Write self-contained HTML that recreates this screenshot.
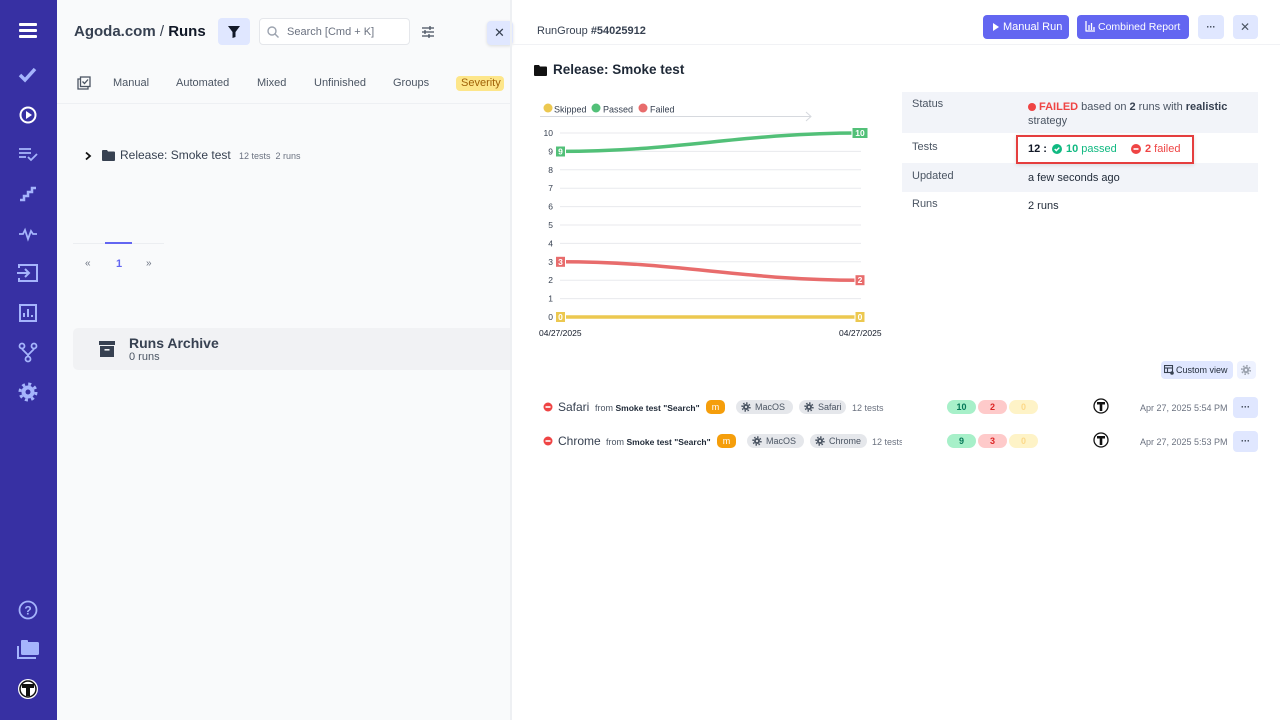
<!DOCTYPE html>
<html><head><meta charset="utf-8">
<style>
*{margin:0;padding:0;box-sizing:border-box}
body{width:1280px;height:720px;overflow:hidden;position:relative;font-family:"Liberation Sans",sans-serif;background:#fff;color:#1f2937}
.a{position:absolute;white-space:nowrap;line-height:14px}
.tab{font-size:11px;color:#4b5563;top:76px}
.lbl{font-size:11px;color:#4b5563}
.val{font-size:11px;color:#1f2937}
.chip{position:absolute;height:14px;border-radius:7px;background:#e5e7eb;font-size:9px;color:#4b5563;line-height:14px;padding-left:19px}
.pill{position:absolute;width:29px;height:14px;border-radius:7px;font-size:9px;font-weight:bold;text-align:center;line-height:14px}
.btn{position:absolute;border-radius:4px}
.dots{position:absolute;font-size:9px;font-weight:bold;color:#1f2937;text-align:center}
</style></head><body>

<!-- sidebar -->
<div class="a" style="left:0;top:0;width:57px;height:720px;background:#3730a3"></div>
<svg class="a" style="left:0;top:0" width="57" height="720" viewBox="0 0 57 720">
  <g fill="#fff"><rect x="19" y="23" width="18" height="3" rx="1"/><rect x="19" y="29" width="18" height="3" rx="1"/><rect x="19" y="35" width="18" height="3" rx="1"/></g>
  <polyline points="20,75 25,80 35,69" fill="none" stroke="#a5b4fc" stroke-width="3.5"/>
  <circle cx="28" cy="115" r="7.5" fill="none" stroke="#fff" stroke-width="2"/><polygon points="26,111 26,119 32,115" fill="#fff"/>
  <g stroke="#a5b4fc" stroke-width="1.8" fill="none"><line x1="19" y1="149" x2="31" y2="149"/><line x1="19" y1="153" x2="31" y2="153"/><line x1="19" y1="157" x2="26" y2="157"/><polyline points="28,157 31,160 37,154"/></g>
  <polyline points="20,200 24,200 24,196 28,196 28,192 32,192 32,188 36,188" fill="none" stroke="#a5b4fc" stroke-width="2.5"/>
  <polyline points="19,234 23,234 25,230 28,239 31,231 33,234 37,234" fill="none" stroke="#a5b4fc" stroke-width="1.8"/>
  <g stroke="#a5b4fc" stroke-width="2" fill="none"><path d="M19,268 V265 H37 V281 H19 V278"/><line x1="17" y1="273" x2="29" y2="273"/><polyline points="25,269 29,273 25,277"/></g>
  <g stroke="#a5b4fc" stroke-width="2" fill="none"><rect x="20" y="305" width="16" height="16"/><line x1="24" y1="317" x2="24" y2="313"/><line x1="28" y1="317" x2="28" y2="309"/><line x1="32" y1="317" x2="32" y2="315"/></g>
  <g stroke="#a5b4fc" stroke-width="1.8" fill="none"><circle cx="22" cy="346" r="2.5"/><circle cx="34" cy="346" r="2.5"/><circle cx="28" cy="359" r="2.5"/><path d="M22,349 L28,355 L34,349"/><line x1="28" y1="355" x2="28" y2="356"/></g>
  <circle cx="28" cy="392" r="6.5" fill="#a5b4fc"/><circle cx="28" cy="392" r="8" fill="none" stroke="#a5b4fc" stroke-width="3" stroke-dasharray="3 3.28"/><circle cx="28" cy="392" r="2.5" fill="#3730a3"/>
  <circle cx="28" cy="610" r="8.5" fill="none" stroke="#a5b4fc" stroke-width="1.8"/>
  <text x="28" y="614.5" font-size="12" font-family="Liberation Sans" font-weight="bold" fill="#a5b4fc" text-anchor="middle">?</text>
  <g fill="#a5b4fc"><rect x="21" y="642" width="18" height="13" rx="1.5"/><rect x="21" y="640" width="7" height="4" rx="1"/><path d="M17,646 V659 H36 V657 H19 V646 Z"/></g>
  <circle cx="28" cy="689" r="10" fill="#fff"/><circle cx="28" cy="689" r="8" fill="none" stroke="#111" stroke-width="1.5"/>
  <path d="M22,684 H34 V688 H30 V696 H26 V688 H22 Z" fill="#111"/>
</svg>

<!-- left panel -->
<div class="a" style="left:57px;top:0;width:453px;height:720px;background:#f9fafb"></div>
<div class="a" style="left:57px;top:103px;width:453px;height:1px;background:#eef0f3"></div>
<div class="a" style="left:74px;top:23px;font-size:15px;line-height:18px;font-weight:bold;color:#374151">Agoda.com <span style="font-weight:normal;color:#374151">/</span> <span style="color:#111827">Runs</span></div>
<div class="btn" style="left:218px;top:18px;width:32px;height:27px;background:#e0e7ff"></div>
<svg class="a" style="left:226px;top:25px" width="16" height="14" viewBox="0 0 16 14"><path d="M2,1 H14 L9.5,7 V12 L6.5,13 V7 Z" fill="#111827"/></svg>
<div class="btn" style="left:259px;top:18px;width:151px;height:27px;background:#fff;border:1px solid #e5e7eb"></div>
<svg class="a" style="left:266px;top:25px" width="14" height="14" viewBox="0 0 14 14"><circle cx="6" cy="6" r="4" fill="none" stroke="#9ca3af" stroke-width="1.4"/><line x1="9" y1="9" x2="12.5" y2="12.5" stroke="#9ca3af" stroke-width="1.4"/></svg>
<div class="a" style="left:287px;top:25px;font-size:11px;color:#6b7280">Search [Cmd + K]</div>
<svg class="a" style="left:421px;top:25px" width="14" height="14" viewBox="0 0 14 14"><g stroke="#4b5563" stroke-width="1.3"><line x1="1" y1="3" x2="13" y2="3"/><line x1="1" y1="7" x2="13" y2="7"/><line x1="1" y1="11" x2="13" y2="11"/><line x1="9" y1="1" x2="9" y2="5"/><line x1="4" y1="5" x2="4" y2="9"/><line x1="8" y1="9" x2="8" y2="13"/></g></svg>
<div class="btn" style="left:487px;top:21px;width:26px;height:24px;background:#e0e7ff;box-shadow:0 1px 3px rgba(0,0,0,.12)"></div>
<div class="a" style="left:494px;top:26px;font-size:13px;color:#374151">✕</div>

<svg class="a" style="left:77px;top:76px" width="14" height="14" viewBox="0 0 14 14"><g fill="none" stroke="#4b5563" stroke-width="1.3"><path d="M3,3 H1 V13 H11 V11"/><rect x="3.5" y="1" width="9.5" height="9.5"/><polyline points="5.5,5.5 7.5,7.5 11,3.5"/></g></svg>
<div class="a tab" style="left:113px">Manual</div>
<div class="a tab" style="left:176px">Automated</div>
<div class="a tab" style="left:257px">Mixed</div>
<div class="a tab" style="left:314px">Unfinished</div>
<div class="a tab" style="left:393px">Groups</div>
<div class="a" style="left:456px;top:76px;width:48px;height:15px;border-radius:4px;background:#fde68a"></div>
<div class="a tab" style="left:461px;color:#a16207">Severity</div>

<svg class="a" style="left:84px;top:151px" width="8" height="10" viewBox="0 0 8 10"><polyline points="2,1.5 6,5 2,8.5" fill="none" stroke="#111" stroke-width="1.8"/></svg>
<svg class="a" style="left:102px;top:150px" width="13" height="11" viewBox="0 0 13 11"><path d="M0,1 Q0,0 1,0 H5 L6,1.5 H12 Q13,1.5 13,2.5 V10 Q13,11 12,11 H1 Q0,11 0,10 Z" fill="#374151"/></svg>
<div class="a" style="left:120px;top:148px;font-size:12px;color:#374151">Release: Smoke test</div>
<div class="a" style="left:239px;top:149px;font-size:9px;color:#6b7280">12 tests &nbsp;2 runs</div>

<div class="a" style="left:73px;top:243px;width:91px;height:1px;background:#eceef1"></div>
<div class="a" style="left:105px;top:242px;width:27px;height:2px;background:#6366f1"></div>
<div class="a" style="left:85px;top:257px;font-size:10px;color:#6b7280">«</div>
<div class="a" style="left:116px;top:257px;font-size:11px;color:#6366f1;font-weight:bold">1</div>
<div class="a" style="left:146px;top:257px;font-size:10px;color:#6b7280">»</div>

<div class="a" style="left:73px;top:328px;width:437px;height:42px;background:#f1f2f4;border-radius:5px 0 0 5px"></div>
<svg class="a" style="left:99px;top:341px" width="16" height="16" viewBox="0 0 16 16"><rect x="0" y="0" width="16" height="4" fill="#374151"/><rect x="1" y="5" width="14" height="11" fill="#374151"/><rect x="5.5" y="8" width="5" height="1.6" fill="#f1f2f4"/></svg>
<div class="a" style="left:129px;top:335px;font-size:14px;line-height:16px;font-weight:bold;color:#374151">Runs Archive</div>
<div class="a" style="left:129px;top:350px;font-size:11px;color:#4b5563">0 runs</div>

<!-- right panel -->
<div class="a" style="left:510px;top:0;width:2px;height:720px;background:#eef0f3"></div>
<div class="a" style="left:512px;top:44px;width:768px;height:1px;background:#f1f2f5"></div>
<div class="a" style="left:537px;top:24px;font-size:11px;color:#374151">RunGroup <b>#54025912</b></div>
<div class="btn" style="left:983px;top:15px;width:86px;height:24px;background:#6366f1"></div>
<svg class="a" style="left:992px;top:23px" width="8" height="8" viewBox="0 0 8 8"><polygon points="1,0 7,4 1,8" fill="#fff"/></svg>
<div class="a" style="left:1003px;top:20px;font-size:11px;color:#fff">Manual Run</div>
<div class="btn" style="left:1077px;top:15px;width:112px;height:24px;background:#6366f1"></div>
<svg class="a" style="left:1085px;top:21px" width="10" height="11" viewBox="0 0 10 11"><g stroke="#fff" stroke-width="1.3"><line x1="1" y1="0" x2="1" y2="10"/><line x1="0.5" y1="10" x2="10" y2="10"/><line x1="4" y1="4" x2="4" y2="9"/><line x1="6.5" y1="2" x2="6.5" y2="9"/><line x1="9" y1="6" x2="9" y2="9"/></g></svg>
<div class="a" style="left:1098px;top:20px;font-size:10.5px;color:#fff">Combined Report</div>
<div class="btn" style="left:1198px;top:15px;width:26px;height:24px;background:#e0e7ff"></div>
<div class="dots" style="left:1198px;top:20px;width:26px;line-height:14px">···</div>
<div class="btn" style="left:1233px;top:15px;width:25px;height:24px;background:#e0e7ff"></div>
<div class="a" style="left:1240px;top:20px;font-size:12px;color:#4b5563">✕</div>

<svg class="a" style="left:534px;top:65px" width="13" height="11" viewBox="0 0 13 11"><path d="M0,1 Q0,0 1,0 H5 L6,1.5 H12 Q13,1.5 13,2.5 V10 Q13,11 12,11 H1 Q0,11 0,10 Z" fill="#111"/></svg>
<div class="a" style="left:553px;top:61px;font-size:13.5px;line-height:18px;font-weight:bold;color:#1f2937">Release: Smoke test</div>

<!-- chart -->
<svg class="a" style="left:530px;top:90px" width="370" height="260" viewBox="530 90 370 260" font-family="Liberation Sans">
  <circle cx="548" cy="108" r="4.5" fill="#ecc850"/><text x="554" y="112.5" font-size="9" fill="#374151">Skipped</text>
  <circle cx="596" cy="108" r="4.5" fill="#52c078"/><text x="603" y="112.5" font-size="9" fill="#374151">Passed</text>
  <circle cx="643" cy="108" r="4.5" fill="#e86c6c"/><text x="650" y="112.5" font-size="9" fill="#374151">Failed</text>
  <line x1="540" y1="116.5" x2="811" y2="116.5" stroke="#d6d9de" stroke-width="1"/>
  <polyline points="806,112 811,116.5 806,121" fill="none" stroke="#d6d9de" stroke-width="1"/>
  <g stroke="#e8eaed" stroke-width="1">
    <line x1="560" y1="133" x2="861" y2="133"/><line x1="560" y1="151.4" x2="861" y2="151.4"/><line x1="560" y1="169.8" x2="861" y2="169.8"/><line x1="560" y1="188.2" x2="861" y2="188.2"/><line x1="560" y1="206.6" x2="861" y2="206.6"/><line x1="560" y1="225" x2="861" y2="225"/><line x1="560" y1="243.4" x2="861" y2="243.4"/><line x1="560" y1="261.8" x2="861" y2="261.8"/><line x1="560" y1="280.2" x2="861" y2="280.2"/><line x1="560" y1="298.6" x2="861" y2="298.6"/><line x1="560" y1="317" x2="861" y2="317"/>
  </g>
  <g font-size="8.5" fill="#374151" text-anchor="end">
    <text x="553" y="136">10</text><text x="553" y="154.4">9</text><text x="553" y="172.8">8</text><text x="553" y="191.2">7</text><text x="553" y="209.6">6</text><text x="553" y="228">5</text><text x="553" y="246.4">4</text><text x="553" y="264.8">3</text><text x="553" y="283.2">2</text><text x="553" y="301.6">1</text><text x="553" y="320">0</text>
  </g>
  <path d="M560,317 L860,317" stroke="#ecc850" stroke-width="3.5" fill="none"/>
  <path d="M560,261.8 C680,261.8 740,280.2 860,280.2" stroke="#e86c6c" stroke-width="3.5" fill="none"/>
  <path d="M560,151.4 C680,151.4 740,133 860,133" stroke="#52c078" stroke-width="3.5" fill="none"/>
  <g stroke="#fff" stroke-width="1">
    <rect x="555.5" y="146" width="10" height="11" fill="#52c078"/>
    <rect x="852" y="127.5" width="16" height="11" fill="#52c078"/>
    <rect x="555.5" y="256.3" width="10" height="11" fill="#e86c6c"/>
    <rect x="855" y="274.7" width="10" height="11" fill="#e86c6c"/>
    <rect x="555.5" y="311.5" width="10" height="11" fill="#ecc850"/>
    <rect x="855" y="311.5" width="10" height="11" fill="#ecc850"/>
  </g>
  <g font-size="8.5" font-weight="bold" fill="#fff" text-anchor="middle">
    <text x="560.5" y="154.5">9</text><text x="860" y="136">10</text><text x="560.5" y="264.8">3</text><text x="860" y="283.2">2</text><text x="560.5" y="320">0</text><text x="860" y="320">0</text>
  </g>
  <g font-size="8.5" fill="#111827"><text x="539" y="336">04/27/2025</text><text x="839" y="336">04/27/2025</text></g>
</svg>

<!-- status table -->
<div class="a" style="left:902px;top:92px;width:356px;height:41px;background:#f2f4f9"></div>
<div class="a" style="left:902px;top:163px;width:356px;height:29px;background:#f2f4f9"></div>
<div class="a lbl" style="left:912px;top:97px">Status</div>
<div class="a" style="left:1028px;top:103px;width:8px;height:8px;border-radius:4px;background:#ef4444"></div>
<div class="a val" style="left:1039px;top:100px;color:#4b5563"><b style="color:#ef4444">FAILED</b> based on <b style="color:#374151">2</b> runs with <b style="color:#374151">realistic</b></div>
<div class="a val" style="left:1028px;top:114px;color:#4b5563">strategy</div>
<div class="a lbl" style="left:912px;top:140px">Tests</div>
<div class="a" style="left:1016px;top:135px;width:178px;height:29px;border:2px solid #e53e3e;background:#fff;box-shadow:0 1px 4px rgba(0,0,0,.12)"></div>
<div class="a val" style="left:1028px;top:142px;font-weight:bold;color:#111827">12 :</div>
<svg class="a" style="left:1052px;top:144px" width="10" height="10" viewBox="0 0 10 10"><circle cx="5" cy="5" r="5" fill="#10b981"/><polyline points="2.7,5 4.3,6.6 7.3,3.6" fill="none" stroke="#fff" stroke-width="1.4"/></svg>
<div class="a val" style="left:1066px;top:142px;color:#10b981"><b>10</b> passed</div>
<svg class="a" style="left:1131px;top:144px" width="10" height="10" viewBox="0 0 10 10"><circle cx="5" cy="5" r="5" fill="#ef4444"/><rect x="2.5" y="4.2" width="5" height="1.6" fill="#fff"/></svg>
<div class="a val" style="left:1145px;top:142px;color:#ef4444"><b>2</b> failed</div>
<div class="a lbl" style="left:912px;top:169px">Updated</div>
<div class="a val" style="left:1028px;top:171px">a few seconds ago</div>
<div class="a lbl" style="left:912px;top:197px">Runs</div>
<div class="a val" style="left:1028px;top:199px">2 runs</div>

<!-- custom view -->
<div class="btn" style="left:1161px;top:361px;width:72px;height:18px;background:#e0e7ff"></div>
<svg class="a" style="left:1164px;top:365px" width="10" height="10" viewBox="0 0 10 10"><g fill="none" stroke="#374151" stroke-width="1.1"><rect x="0.5" y="0.5" width="8" height="7"/><line x1="0.5" y1="3" x2="8.5" y2="3"/><line x1="3.5" y1="3" x2="3.5" y2="7.5"/></g><circle cx="8" cy="8" r="1.8" fill="#374151"/></svg>
<div class="a" style="left:1176px;top:363px;font-size:9px;color:#1f2937">Custom view</div>
<div class="btn" style="left:1237px;top:361px;width:19px;height:18px;background:#eef2ff"></div>
<svg class="a" style="left:1241px;top:365px" width="10" height="10" viewBox="0 0 10 10"><circle cx="5" cy="5" r="3.2" fill="#9ca3af"/><circle cx="5" cy="5" r="4.2" fill="none" stroke="#9ca3af" stroke-width="1.6" stroke-dasharray="1.6 1.7"/><circle cx="5" cy="5" r="1.2" fill="#eef2ff"/></svg>

<!-- rows -->
<svg class="a" style="left:0;top:0;pointer-events:none" width="1280" height="720" viewBox="0 0 1280 720">
  <defs><g id="gear"><circle cx="0" cy="0" r="3" fill="#4b5563"/><circle cx="0" cy="0" r="3.9" fill="none" stroke="#4b5563" stroke-width="1.6" stroke-dasharray="1.5 1.56"/><circle cx="0" cy="0" r="1.1" fill="#e5e7eb"/></g>
  <g id="min"><circle cx="0" cy="0" r="4.5" fill="#ef4444"/><rect x="-2.5" y="-0.8" width="5" height="1.6" fill="#fff"/></g>
  <g id="av"><circle cx="0" cy="0" r="7" fill="#fff" stroke="#111" stroke-width="1.3"/><path d="M-4,-4 H4 V-1.5 H1.3 V5 H-1.3 V-1.5 H-4 Z" fill="#111"/></g></defs>
  <use href="#min" x="548" y="407"/><use href="#min" x="548" y="441"/>
  <use href="#av" x="1101" y="406"/><use href="#av" x="1101" y="440"/>
</svg>

<div class="a" style="left:558px;top:400px;font-size:12px;color:#374151">Safari</div>
<div class="a" style="left:595px;top:400.5px;font-size:9px;color:#4b5563">from <b style="font-size:8.5px;color:#1f2937">Smoke test "Search"</b></div>
<div class="a" style="left:706px;top:400px;width:19px;height:14px;border-radius:5px;background:#f59e0b;color:#fff;font-size:9px;text-align:center">m</div>
<div class="chip" style="left:736px;top:400px;width:57px">MacOS</div>
<div class="chip" style="left:799px;top:400px;width:47px">Safari</div>
<div class="a" style="left:852px;top:400.5px;font-size:9px;color:#6b7280">12 tests</div>

<div class="a" style="left:558px;top:434px;font-size:12px;color:#374151">Chrome</div>
<div class="a" style="left:606px;top:434.5px;font-size:9px;color:#4b5563">from <b style="font-size:8.5px;color:#1f2937">Smoke test "Search"</b></div>
<div class="a" style="left:717px;top:434px;width:19px;height:14px;border-radius:5px;background:#f59e0b;color:#fff;font-size:9px;text-align:center">m</div>
<div class="chip" style="left:747px;top:434px;width:57px">MacOS</div>
<div class="chip" style="left:810px;top:434px;width:57px">Chrome</div>
<div class="a" style="left:872px;top:434.5px;font-size:9px;color:#6b7280;width:30px;overflow:hidden">12 tests</div>

<svg class="a" style="left:0;top:0;pointer-events:none" width="1280" height="720" viewBox="0 0 1280 720">
  <use href="#gear" x="746" y="407"/><use href="#gear" x="809" y="407"/>
  <use href="#gear" x="757" y="441"/><use href="#gear" x="820" y="441"/>
</svg>

<div class="pill" style="left:947px;top:400px;background:#a7f0c9;color:#047857">10</div>
<div class="pill" style="left:978px;top:400px;background:#fecaca;color:#dc2626">2</div>
<div class="pill" style="left:1009px;top:400px;background:#fef3c7;color:#fcd98a">0</div>
<div class="pill" style="left:947px;top:434px;background:#a7f0c9;color:#047857">9</div>
<div class="pill" style="left:978px;top:434px;background:#fecaca;color:#dc2626">3</div>
<div class="pill" style="left:1009px;top:434px;background:#fef3c7;color:#fcd98a">0</div>

<div class="a" style="left:1140px;top:400.5px;font-size:9px;color:#6b7280">Apr 27, 2025 5:54 PM</div>
<div class="a" style="left:1140px;top:434.5px;font-size:9px;color:#6b7280">Apr 27, 2025 5:53 PM</div>
<div class="btn" style="left:1233px;top:397px;width:25px;height:21px;background:#e0e7ff"></div>
<div class="dots" style="left:1233px;top:400px;width:25px;line-height:14px">···</div>
<div class="btn" style="left:1233px;top:431px;width:25px;height:21px;background:#e0e7ff"></div>
<div class="dots" style="left:1233px;top:434px;width:25px;line-height:14px">···</div>

</body></html>
